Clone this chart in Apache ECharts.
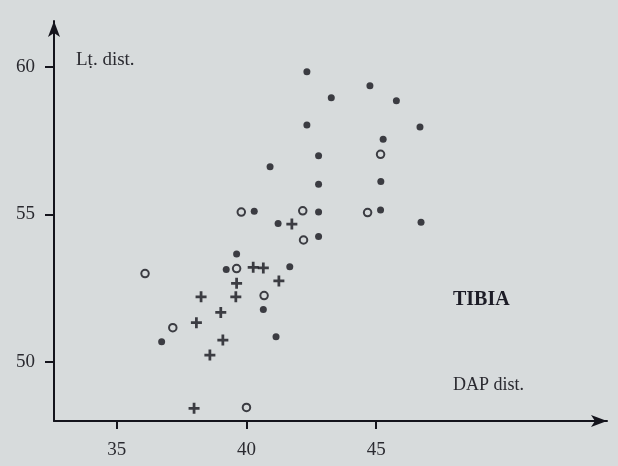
<!DOCTYPE html>
<html>
<head>
<meta charset="utf-8">
<script src="https://cdn.jsdelivr.net/npm/echarts@6/dist/echarts.min.js"></script>
<style>
html,body{margin:0;padding:0;background:#d7dbdc;}
#chart{width:618px;height:466px;}
</style>
</head>
<body>
<div id="chart"></div>
<script>
// Tick labels
const xTicks = [35, 40, 45];
const yTicks = [50, 55, 60];

// Filled dots
const filledX = [42.33, 44.76, 43.27, 45.78, 42.33, 46.69, 45.27, 42.78, 40.91, 42.78, 45.18, 40.30, 42.78, 45.17, 41.22, 46.73, 42.78, 39.62, 39.22, 41.67, 40.65, 36.73, 41.14];
const filledY = [59.85, 59.37, 58.96, 58.86, 58.04, 57.97, 57.55, 56.99, 56.62, 56.02, 56.12, 55.11, 55.08, 55.15, 54.69, 54.73, 54.25, 53.65, 53.13, 53.22, 51.77, 50.67, 50.84];

// Open circles
const openX = [45.17, 39.80, 42.17, 44.67, 42.20, 39.62, 36.09, 40.68, 37.16, 40.00];
const openY = [57.04, 55.08, 55.12, 55.06, 54.13, 53.16, 52.99, 52.24, 51.15, 48.44];

// Plus signs
const plusX = [41.75, 40.26, 40.65, 39.62, 41.25, 38.25, 39.59, 39.01, 38.07, 39.09, 38.59, 37.98];
const plusY = [54.67, 53.20, 53.18, 52.66, 52.74, 52.20, 52.20, 51.67, 51.32, 50.73, 50.22, 48.41];

const ink = '#14141c';
const serif = '"Liberation Serif", "DejaVu Serif", serif';
const pair = (xs, ys) => xs.map((x, i) => [x, ys[i]]);

const chart = echarts.init(document.getElementById('chart'), null, {renderer: 'canvas'});
chart.setOption({
  backgroundColor: '#d7dbdc',
  animation: false,
  grid: {left: 54, right: 11, top: 21, bottom: 45},
  xAxis: {
    type: 'value', min: 32.58, max: 53.90,
    splitLine: {show: false},
    axisLine: {show: true, onZero: false, symbol: ['none', 'arrow'], symbolSize: [9, 16],
      lineStyle: {color: ink, width: 2}},
    axisTick: {show: true, customValues: xTicks, length: 8, lineStyle: {color: ink, width: 2}},
    axisLabel: {customValues: xTicks, margin: 20, color: '#2a2a30', fontFamily: serif, fontSize: 19}
  },
  yAxis: {
    type: 'value', min: 47.98, max: 61.57,
    splitLine: {show: false},
    axisLine: {show: true, onZero: false, symbol: ['none', 'arrow'], symbolSize: [9, 16],
      lineStyle: {color: ink, width: 2}},
    axisTick: {show: true, customValues: yTicks, length: 9, lineStyle: {color: ink, width: 2}},
    axisLabel: {customValues: yTicks, margin: 19, color: '#2a2a30', fontFamily: serif, fontSize: 19}
  },
  series: [
    {type: 'scatter', name: 'filled', data: pair(filledX, filledY), symbol: 'circle', symbolSize: 7,
      itemStyle: {color: ink}},
    {type: 'scatter', name: 'open', data: pair(openX, openY), symbol: 'circle', symbolSize: 7.5,
      itemStyle: {color: 'rgba(0,0,0,0)', borderColor: ink, borderWidth: 2}},
    {type: 'scatter', name: 'plus', data: pair(plusX, plusY),
      symbol: 'path://M-1.25,-5 L1.25,-5 L1.25,-1.25 L5,-1.25 L5,1.25 L1.25,1.25 L1.25,5 L-1.25,5 L-1.25,1.25 L-5,1.25 L-5,-1.25 L-1.25,-1.25 Z',
      symbolSize: 11, itemStyle: {color: ink}}
  ],
  graphic: [
    {type: 'text', x: 76, y: 60, style: {text: 'Lṭ. dist.', font: '19px ' + serif, fill: '#2a2a30', verticalAlign: 'middle'}},
    {type: 'text', x: 453, y: 300, style: {text: 'TIBIA', font: 'bold 20px ' + serif, fill: '#1c1c26', verticalAlign: 'middle'}},
    {type: 'text', x: 453, y: 385, style: {text: 'DAP dist.', font: '18px ' + serif, fill: '#2a2a30', verticalAlign: 'middle'}}
  ]
});
</script>
</body>
</html>
